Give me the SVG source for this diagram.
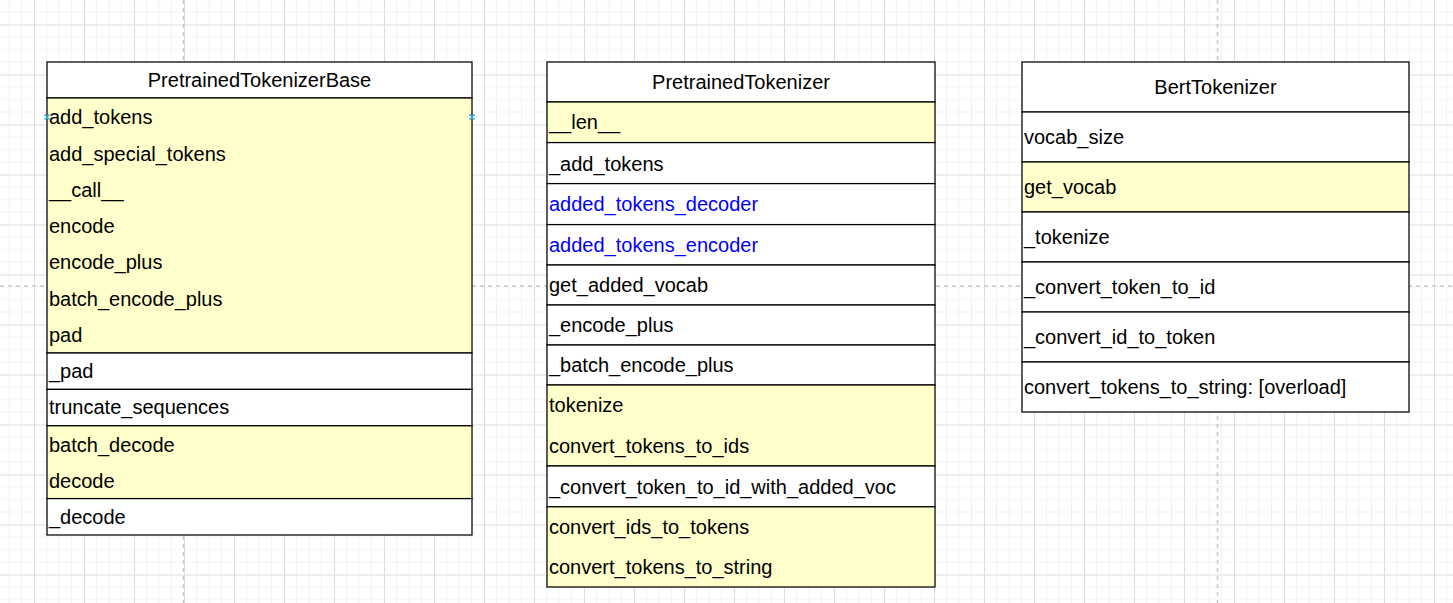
<svg xmlns="http://www.w3.org/2000/svg" width="1453" height="603" viewBox="0 0 1453 603">
<style>
.box{stroke:#000;stroke-width:1.25}
.w{fill:#fff}
.y{fill:#ffffcc}
.t{font-family:"Liberation Sans",Arial,sans-serif;font-size:20px;fill:#000}
.c{text-anchor:middle}
.b{fill:#0000ff}
.pb{stroke:#c8c8c8;stroke-width:1.5;stroke-dasharray:4 4;fill:none}
.mk{stroke:#29b6f2;stroke-width:1.6;fill:none}
</style>
<defs>
<pattern id="grid" patternUnits="userSpaceOnUse" x="34" y="24.5" width="50" height="50">
<rect width="50" height="50" fill="#fff"/>
<path d="M12.5 0V50M25 0V50M37.5 0V50M0 12.5H50M0 25H50M0 37.5H50" stroke="#f2f2f2" stroke-width="1"/>
<path d="M0.5 0V50M0 0.5H50" stroke="#dcdcdc" stroke-width="1"/>
</pattern>
</defs>
<rect width="1453" height="603" fill="url(#grid)"/>
<g id="page-breaks">
<path class="pb" d="M183.5 0V603M1217.5 0V603M0 286H1453"/>
</g>
<g id="PretrainedTokenizerBase">
<rect class="box w" x="47" y="62" width="425" height="36"/>
<text class="t c" x="259.5" y="87">PretrainedTokenizerBase</text>
<rect class="box y" x="47" y="98" width="425" height="255"/>
<rect class="box w" x="47" y="353" width="425" height="36.4"/>
<rect class="box w" x="47" y="389.4" width="425" height="36.4"/>
<rect class="box y" x="47" y="425.8" width="425" height="72.8"/>
<rect class="box w" x="47" y="498.6" width="425" height="36.4"/>
<text class="t" x="49" y="124">add_tokens</text>
<text class="t" x="49" y="160.6">add_special_tokens</text>
<text class="t" x="49" y="197">__call__</text>
<text class="t" x="49" y="233.2">encode</text>
<text class="t" x="49" y="269.4">encode_plus</text>
<text class="t" x="49" y="305.8">batch_encode_plus</text>
<text class="t" x="49" y="342">pad</text>
<text class="t" x="49" y="378.4">_pad</text>
<text class="t" x="49" y="414.4">truncate_sequences</text>
<text class="t" x="49" y="451.6">batch_decode</text>
<text class="t" x="49" y="487.8">decode</text>
<text class="t" x="49" y="524">_decode</text>
<path class="mk" d="M44.5 114.5l5 5M49.5 114.5l-5 5M469.5 114.5l5 5M474.5 114.5l-5 5"/>
</g>
<g id="PretrainedTokenizer">
<rect class="box w" x="547" y="62" width="388" height="40"/>
<text class="t c" x="741" y="89">PretrainedTokenizer</text>
<rect class="box y" x="547" y="102" width="388" height="40.6"/>
<rect class="box w" x="547" y="142.6" width="388" height="41"/>
<rect class="box w" x="547" y="183.6" width="388" height="41"/>
<rect class="box w" x="547" y="224.6" width="388" height="40.4"/>
<rect class="box w" x="547" y="265" width="388" height="40"/>
<rect class="box w" x="547" y="305" width="388" height="40"/>
<rect class="box w" x="547" y="345" width="388" height="40"/>
<rect class="box y" x="547" y="385" width="388" height="81"/>
<rect class="box w" x="547" y="466" width="388" height="40.8"/>
<rect class="box y" x="547" y="506.8" width="388" height="80.2"/>
<text class="t" x="549" y="129.2">__len__</text>
<text class="t" x="549" y="170.6">_add_tokens</text>
<text class="t b" x="549" y="211.4">added_tokens_decoder</text>
<text class="t b" x="549" y="251.6">added_tokens_encoder</text>
<text class="t" x="549" y="291.8">get_added_vocab</text>
<text class="t" x="549" y="331.8">_encode_plus</text>
<text class="t" x="549" y="372">_batch_encode_plus</text>
<text class="t" x="549" y="412">tokenize</text>
<text class="t" x="549" y="452.8">convert_tokens_to_ids</text>
<text class="t" x="549" y="493.6">_convert_token_to_id_with_added_voc</text>
<text class="t" x="549" y="533.8">convert_ids_to_tokens</text>
<text class="t" x="549" y="573.8">convert_tokens_to_string</text>
</g>
<g id="BertTokenizer">
<rect class="box w" x="1022" y="62" width="387" height="50"/>
<text class="t c" x="1215.5" y="94">BertTokenizer</text>
<rect class="box w" x="1022" y="112" width="387" height="50"/>
<rect class="box y" x="1022" y="162" width="387" height="50"/>
<rect class="box w" x="1022" y="212" width="387" height="50"/>
<rect class="box w" x="1022" y="262" width="387" height="50"/>
<rect class="box w" x="1022" y="312" width="387" height="50"/>
<rect class="box w" x="1022" y="362" width="387" height="50"/>
<text class="t" x="1024" y="144">vocab_size</text>
<text class="t" x="1024" y="194">get_vocab</text>
<text class="t" x="1024" y="244">_tokenize</text>
<text class="t" x="1024" y="294">_convert_token_to_id</text>
<text class="t" x="1024" y="344">_convert_id_to_token</text>
<text class="t" x="1024" y="394">convert_tokens_to_string: [overload]</text>
</g>
<g id="connectors"/>
</svg>
